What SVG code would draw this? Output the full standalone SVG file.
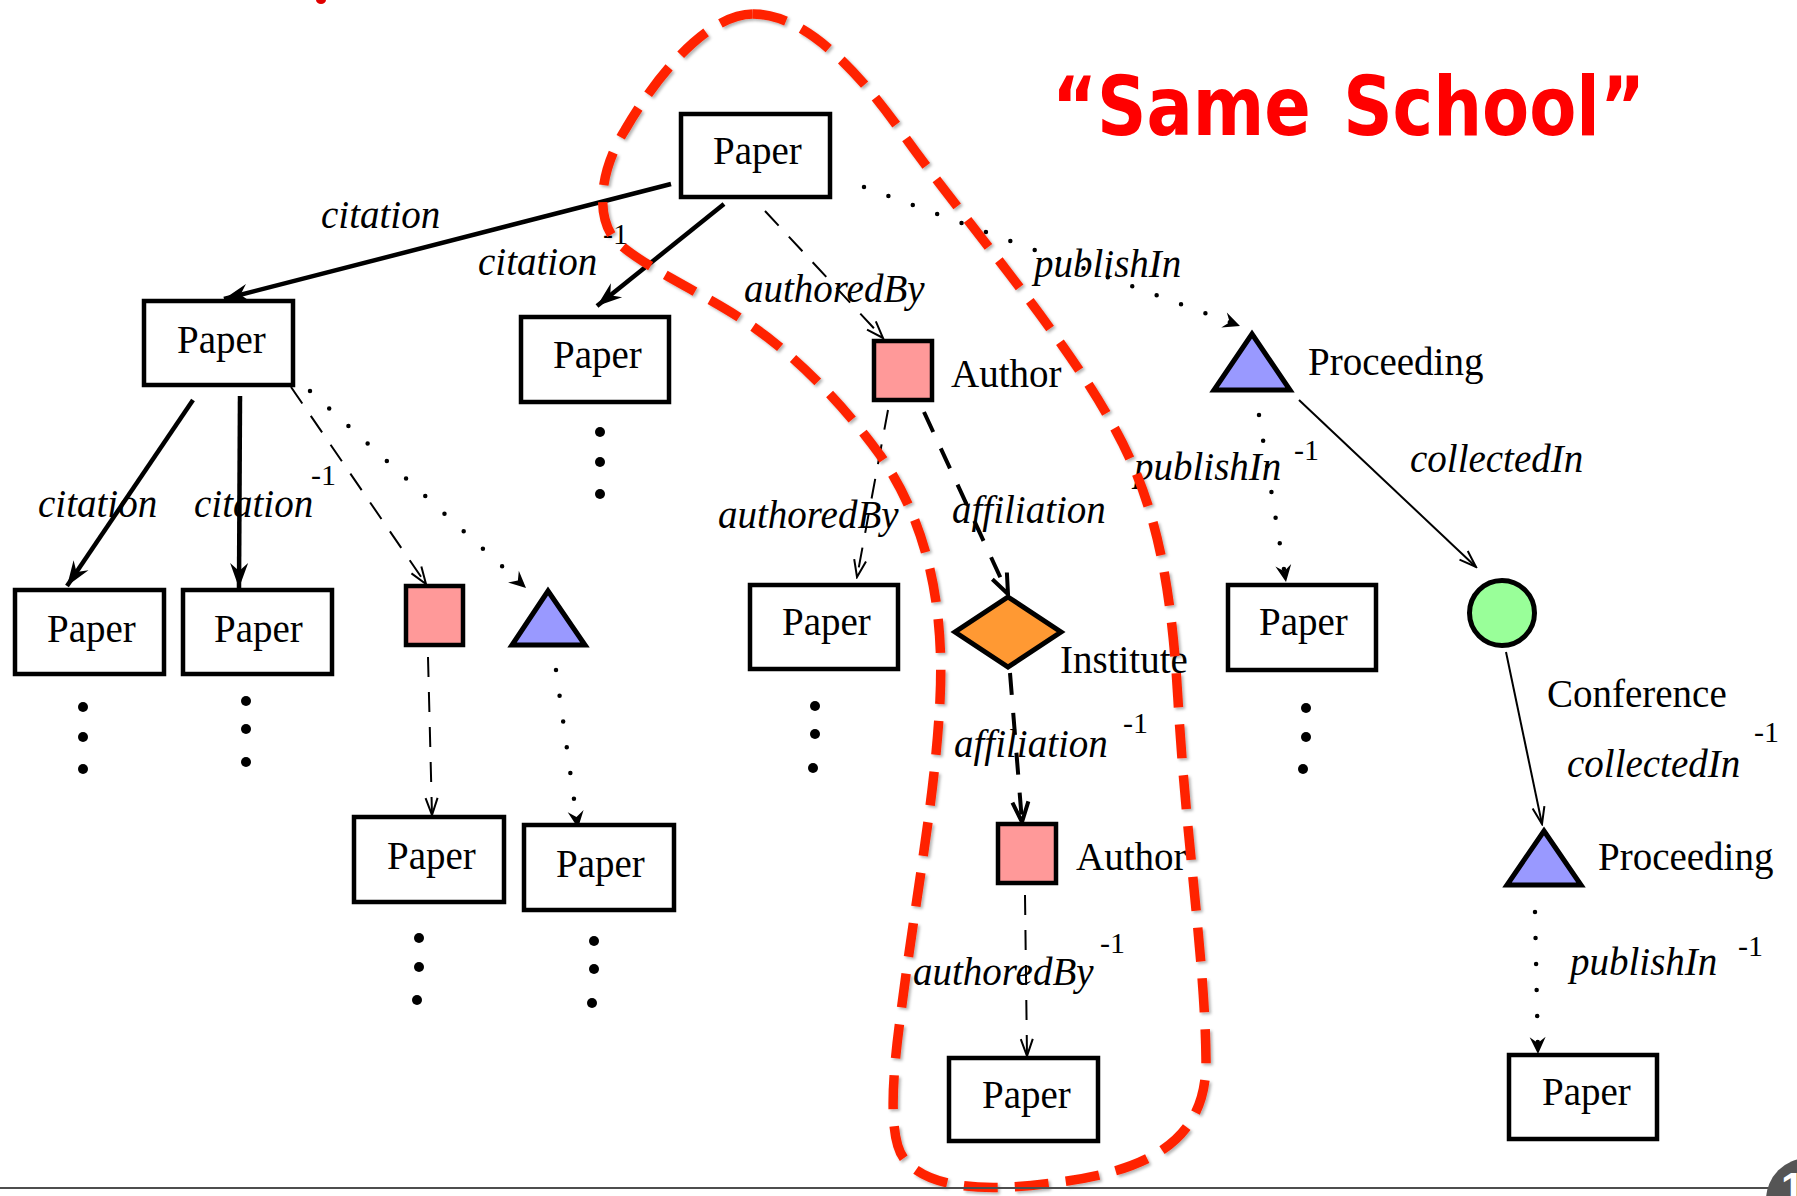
<svg xmlns="http://www.w3.org/2000/svg" width="1797" height="1196" viewBox="0 0 1797 1196">
  <style>
    .box { fill: #fff; stroke: #000; stroke-width: 4.5; }
    .author { fill: #ff9999; stroke: #000; stroke-width: 4.5; }
    .proc { fill: #9999ff; stroke: #000; stroke-width: 5; stroke-linejoin: miter; }
    .inst { fill: #ff9933; stroke: #000; stroke-width: 5; }
    .conf { fill: #99ff99; stroke: #000; stroke-width: 5; }
    .lbl { font-family: "Liberation Serif", "Times New Roman", serif; font-size: 39px; fill: #000; }
    .elbl { font-family: "Liberation Serif", "Times New Roman", serif; font-size: 39px; font-style: italic; fill: #000; }
    .sup { font-family: "Liberation Serif", "Times New Roman", serif; font-size: 30px; fill: #000; }
    .thick { stroke: #000; stroke-width: 4.5; fill: none; marker-end: url(#stealth); }
    .thin { stroke: #000; stroke-width: 2; fill: none; marker-end: url(#vee); }
    .dash { stroke: #000; stroke-width: 2; fill: none; stroke-dasharray: 20 15; marker-end: url(#vee); }
    .dashbold { stroke: #000; stroke-width: 4; fill: none; stroke-dasharray: 22 18; marker-end: url(#veebold); }
    .dot { stroke: #000; stroke-width: 4.5; fill: none; stroke-linecap: round; stroke-dasharray: 0 26; marker-end: url(#dart); }
    .ell { fill: #000; }
  </style>
  <defs>
    <marker id="stealth" markerUnits="userSpaceOnUse" viewBox="-28 -12 30 24" markerWidth="30" markerHeight="24" refX="0" refY="0" orient="auto">
      <path d="M0,0 L-25,-9 L-17,0 L-25,9 Z" fill="#000"/>
    </marker>
    <marker id="dart" markerUnits="userSpaceOnUse" viewBox="-20 -10 22 20" markerWidth="22" markerHeight="20" refX="0" refY="0" orient="auto">
      <path d="M0,0 L-17,-8 L-11,0 L-17,8 Z" fill="#000"/>
    </marker>
    <marker id="vee" markerUnits="userSpaceOnUse" viewBox="-22 -10 24 20" markerWidth="24" markerHeight="20" refX="0" refY="0" orient="auto">
      <path d="M-17,-6 L0,0 L-17,6" fill="none" stroke="#000" stroke-width="2"/>
    </marker>
    <marker id="veebold" markerUnits="userSpaceOnUse" viewBox="-26 -12 28 24" markerWidth="28" markerHeight="24" refX="0" refY="0" orient="auto">
      <path d="M-20,-8 L0,0 L-20,8" fill="none" stroke="#000" stroke-width="4"/>
    </marker>
    <filter id="shadow" x="-5%" y="-5%" width="110%" height="110%">
      <feDropShadow dx="2" dy="2" stdDeviation="1.5" flood-color="#000" flood-opacity="0.3"/>
    </filter>
  </defs>

  <rect width="1797" height="1196" fill="#fff"/>

  <!-- fragment of red heading above the frame -->
  <ellipse cx="321" cy="0" rx="5" ry="4" fill="#e00000"/>

  <!-- connectors -->
  <g id="connectors">
    <line class="thick" x1="671" y1="184" x2="224" y2="299"/>
    <line class="thick" x1="724" y1="204" x2="597" y2="306"/>
    <line class="dash" x1="765" y1="211" x2="883" y2="338"/>
    <line class="dot" x1="864" y1="187" x2="1240" y2="326"/>
    <line class="thick" x1="193" y1="400" x2="67" y2="586"/>
    <line class="thick" x1="240" y1="396" x2="239" y2="588"/>
    <line class="dash" x1="291" y1="387" x2="426" y2="584"/>
    <line class="dot" x1="310" y1="391" x2="526" y2="588"/>
    <line class="dash" x1="428" y1="657" x2="432" y2="815"/>
    <line class="dot" x1="556" y1="670" x2="578" y2="828"/>
    <line class="dash" x1="888" y1="410" x2="857" y2="577"/>
    <line class="dashbold" x1="924" y1="412" x2="1008" y2="594"/>
    <line class="dashbold" x1="1010" y1="673" x2="1022" y2="822"/>
    <line class="dash" x1="1025" y1="895" x2="1027" y2="1056"/>
    <line class="dot" x1="1259" y1="415" x2="1286" y2="582"/>
    <line class="thin" x1="1299" y1="400" x2="1476" y2="567"/>
    <line class="thin" x1="1506" y1="652" x2="1542" y2="824"/>
    <line class="dot" x1="1535" y1="912" x2="1538" y2="1054"/>

    <g id="edge-labels">
      <text class="elbl" x="321" y="228">citation</text>
      <text class="elbl" x="478" y="275">citation</text>
      <text class="sup" x="603" y="244">-1</text>
      <text class="elbl" x="744" y="302">authoredBy</text>
      <text class="elbl" x="1034" y="277">publishIn</text>
      <text class="elbl" x="38" y="517">citation</text>
      <text class="elbl" x="194" y="517">citation</text>
      <text class="sup" x="311" y="485">-1</text>
      <text class="elbl" x="718" y="528">authoredBy</text>
      <text class="elbl" x="952" y="523">affiliation</text>
      <text class="elbl" x="1134" y="480">publishIn</text>
      <text class="sup" x="1294" y="460">-1</text>
      <text class="elbl" x="1410" y="472">collectedIn</text>
      <text class="elbl" x="954" y="757">affiliation</text>
      <text class="sup" x="1123" y="733">-1</text>
      <text class="elbl" x="913" y="985">authoredBy</text>
      <text class="sup" x="1100" y="953">-1</text>
      <text class="elbl" x="1567" y="777">collectedIn</text>
      <text class="sup" x="1754" y="742">-1</text>
      <text class="elbl" x="1570" y="975">publishIn</text>
      <text class="sup" x="1738" y="956">-1</text>
    </g>
  </g>

  <!-- nodes -->
  <g id="paper-root">
    <rect class="box" x="681" y="114" width="149" height="83"/>
    <text class="lbl" x="713" y="164">Paper</text>
  </g>
  <g id="paper-cited">
    <rect class="box" x="144" y="301" width="149" height="84"/>
    <text class="lbl" x="177" y="353">Paper</text>
  </g>
  <g id="paper-citing">
    <rect class="box" x="521" y="317" width="148" height="85"/>
    <text class="lbl" x="553" y="368">Paper</text>
    <circle class="ell" cx="600" cy="432" r="5"/>
    <circle class="ell" cx="600" cy="462" r="5"/>
    <circle class="ell" cx="600" cy="494" r="5"/>
  </g>
  <g id="author-top">
    <rect class="author" x="874" y="341" width="58" height="59"/>
    <text class="lbl" x="951" y="387">Author</text>
  </g>
  <g id="proceeding-top">
    <polygon class="proc" points="1252,334 1290,390 1214,390"/>
    <text class="lbl" x="1308" y="375">Proceeding</text>
  </g>
  <g id="paper-l1">
    <rect class="box" x="15" y="590" width="149" height="84"/>
    <text class="lbl" x="47" y="642">Paper</text>
    <circle class="ell" cx="83" cy="707" r="5"/>
    <circle class="ell" cx="83" cy="737" r="5"/>
    <circle class="ell" cx="83" cy="769" r="5"/>
  </g>
  <g id="paper-l2">
    <rect class="box" x="183" y="590" width="149" height="84"/>
    <text class="lbl" x="214" y="642">Paper</text>
    <circle class="ell" cx="246" cy="701" r="5"/>
    <circle class="ell" cx="246" cy="729" r="5"/>
    <circle class="ell" cx="246" cy="762" r="5"/>
  </g>
  <g id="author-left">
    <rect class="author" x="406" y="586" width="57" height="59"/>
  </g>
  <g id="proceeding-left">
    <polygon class="proc" points="548,591 585,645 512,645"/>
  </g>
  <g id="paper-l3">
    <rect class="box" x="354" y="817" width="150" height="85"/>
    <text class="lbl" x="387" y="869">Paper</text>
    <circle class="ell" cx="419" cy="938" r="5"/>
    <circle class="ell" cx="419" cy="967" r="5"/>
    <circle class="ell" cx="417" cy="1000" r="5"/>
  </g>
  <g id="paper-l4">
    <rect class="box" x="524" y="825" width="150" height="85"/>
    <text class="lbl" x="556" y="877">Paper</text>
    <circle class="ell" cx="594" cy="941" r="5"/>
    <circle class="ell" cx="594" cy="969" r="5"/>
    <circle class="ell" cx="592" cy="1003" r="5"/>
  </g>
  <g id="paper-coauthored">
    <rect class="box" x="750" y="585" width="148" height="84"/>
    <text class="lbl" x="782" y="635">Paper</text>
    <circle class="ell" cx="815" cy="706" r="5"/>
    <circle class="ell" cx="815" cy="734" r="5"/>
    <circle class="ell" cx="813" cy="768" r="5"/>
  </g>
  <g id="institute">
    <polygon class="inst" points="1008,597 1061,632 1008,667 955,632"/>
    <text class="lbl" x="1060" y="673">Institute</text>
  </g>
  <g id="author-colleague">
    <rect class="author" x="998" y="824" width="58" height="59"/>
    <text class="lbl" x="1076" y="870">Author</text>
  </g>
  <g id="paper-same-school">
    <rect class="box" x="949" y="1058" width="149" height="83"/>
    <text class="lbl" x="982" y="1108">Paper</text>
  </g>
  <g id="paper-same-proceeding">
    <rect class="box" x="1228" y="585" width="148" height="85"/>
    <text class="lbl" x="1259" y="635">Paper</text>
    <circle class="ell" cx="1306" cy="708" r="5"/>
    <circle class="ell" cx="1306" cy="737" r="5"/>
    <circle class="ell" cx="1303" cy="769" r="5"/>
  </g>
  <g id="conference">
    <circle class="conf" cx="1502" cy="613" r="32.5"/>
    <text class="lbl" x="1547" y="707">Conference</text>
  </g>
  <g id="proceeding-bottom">
    <polygon class="proc" points="1544,831 1581,885 1507,885"/>
    <text class="lbl" x="1598" y="870">Proceeding</text>
  </g>
  <g id="paper-same-conference">
    <rect class="box" x="1509" y="1055" width="148" height="84"/>
    <text class="lbl" x="1542" y="1105">Paper</text>
  </g>

  <!-- meta-path outline -->
  <g id="same-school-outline" filter="url(#shadow)">
    <path d="M753,14 C800,14 850,60 900,130 C960,215 1060,330 1110,420 C1150,490 1170,560 1178,700 C1186,840 1205,960 1206,1060 C1207,1140 1150,1170 1060,1182 C990,1192 930,1190 905,1160 C888,1140 892,1080 900,1020 C915,900 935,800 940,700 C945,600 925,520 880,455 C840,400 790,350 740,318 C700,292 640,265 615,240 C595,215 600,170 625,130 C660,70 710,14 753,14 Z" fill="none" stroke="#ff2400" stroke-width="9.5" stroke-dasharray="34 17"/>
  </g>

  <!-- heading -->
  <text id="title" x="1052" y="135" textLength="593" lengthAdjust="spacingAndGlyphs" word-spacing="10" font-family="'DejaVu Sans', sans-serif" font-weight="bold" font-size="82" fill="#ff0000">“Same School”</text>

  <!-- slide footer -->
  <line x1="0" y1="1188" x2="1772" y2="1188" stroke="#4d4d4d" stroke-width="2"/>
  <circle cx="1808" cy="1200" r="42" fill="#555"/>
  <text x="1781" y="1202" font-family="'Liberation Sans', Arial, sans-serif" font-weight="bold" font-size="42" fill="#fff">1</text>
</svg>
